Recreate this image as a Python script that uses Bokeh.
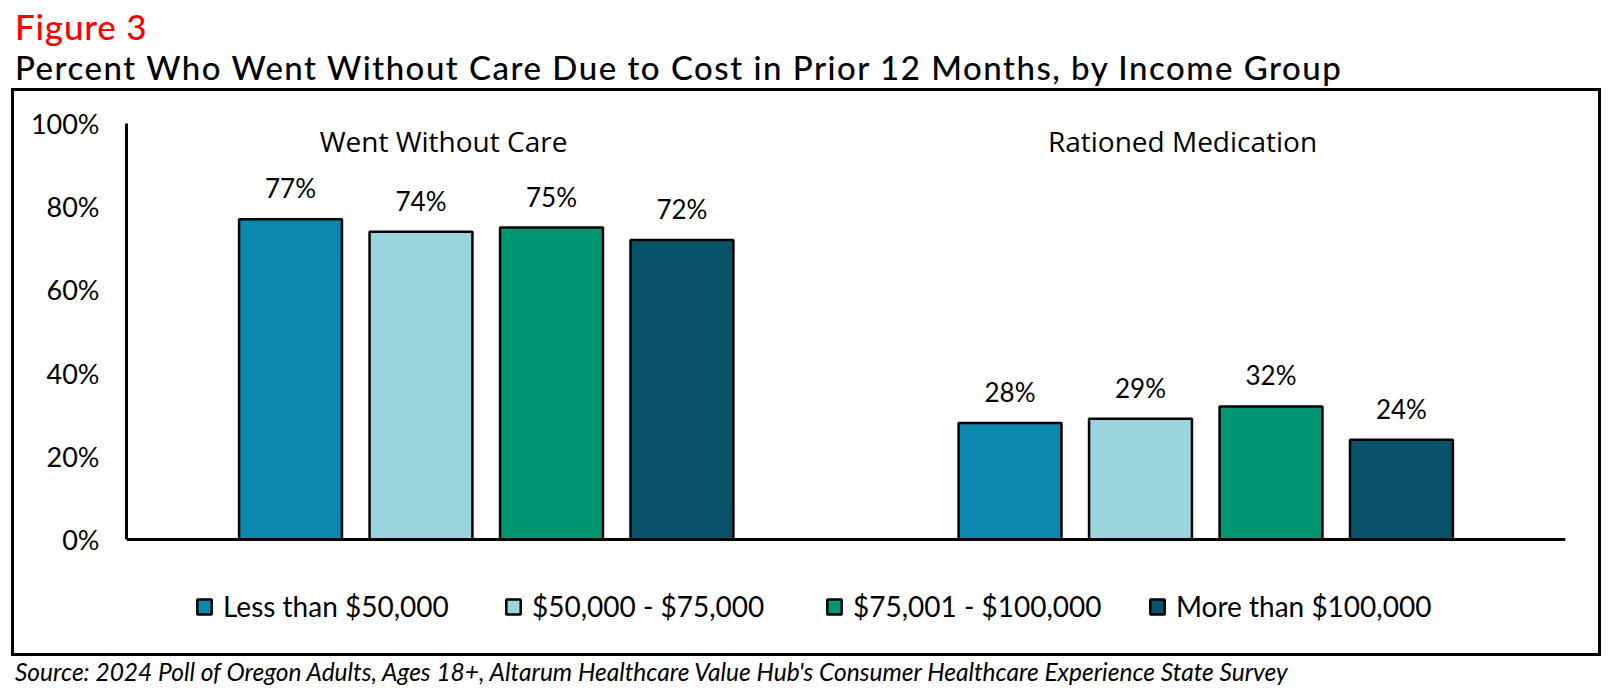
from bokeh.plotting import figure
from bokeh.layouts import column
from bokeh.models import (ColumnDataSource, FactorRange, Range1d, FixedTicker,
                          PrintfTickFormatter, LabelSet, Label, Legend, LegendItem,
                          Span, Div)
from bokeh.transform import dodge
from bokeh.core.properties import value
from bokeh.embed import file_html
from bokeh.resources import INLINE

# ---------------- data ----------------
groups = ["Went Without Care", "Rationed Medication"]
income_groups = ["Less than $50,000", "$50,000 - $75,000",
                 "$75,001 - $100,000", "More than $100,000"]
less_50k = [77, 28]
k50_75 = [74, 29]
k75_100 = [75, 32]
more_100k = [72, 24]
y_ticks = [0, 20, 40, 60, 80, 100]
colors = ["#0C88B0", "#9AD5DD", "#039675", "#08536A"]
fig_label = "Figure 3"
title_text = "Percent Who Went Without Care Due to Cost in Prior 12 Months, by Income Group"
source_note = ("Source: 2024 Poll of Oregon Adults, Ages 18+, Altarum Healthcare "
               "Value Hub's Consumer Healthcare Experience State Survey")

# ---------------- styles ----------------
FONT = "Lato"
HEAD_FONT = "Open Sans"
offsets = [-0.272, -0.0907, 0.0907, 0.272]
bar_width = 0.143
legend_x = [69, 378, 699, 1022]          # px from frame left
group_label_x = [317, 1056]              # px from frame left


def abs_text(txt, left, top, size, color="black", weight=400, style="normal",
             spacing=0):
    return (f'<div style="position:absolute;left:{left}px;top:{top}px;'
            f'font-family:Lato;font-size:{size}px;line-height:{size}px;'
            f'font-weight:{weight};font-style:{style};color:{color};'
            f'letter-spacing:{spacing}px;white-space:nowrap;">{txt}</div>')


# ---------------- header ----------------
header_html = ('<div style="position:relative;width:1621px;height:88px;">'
               + abs_text(fig_label, 15, 9, 35, color="#FF0000", weight=500,
                          spacing=0.8)
               + abs_text(title_text, 15, 51, 33, weight=500, spacing=1.5)
               + '</div>')
header = Div(text=header_html, width=1621, height=88, margin=0)

# ---------------- main chart ----------------
series = [less_50k, k50_75, k75_100, more_100k]
data = {"group": groups}
for i, s in enumerate(series):
    data[f"s{i}"] = s
    data[f"t{i}"] = [f"{v}%" for v in s]
src = ColumnDataSource(data)

p = figure(x_range=FactorRange(factors=groups, range_padding=0),
           y_range=Range1d(-25, 100),
           width=1590, height=568,
           output_backend="svg", toolbar_location=None,
           min_border_left=115, min_border_right=36,
           min_border_top=35, min_border_bottom=13)
p.margin = (0, 0, 0, 11)
p.outline_line_color = None
p.xgrid.visible = False
p.ygrid.visible = False
p.xaxis.visible = False

p.yaxis.bounds = (0, 100)
p.yaxis.ticker = FixedTicker(ticks=y_ticks)
p.yaxis.formatter = PrintfTickFormatter(format="%d%%")
p.yaxis.axis_line_width = 3
p.yaxis.axis_line_color = "black"
p.yaxis.major_tick_in = 0
p.yaxis.major_tick_out = 0
p.yaxis.minor_tick_in = 0
p.yaxis.minor_tick_out = 0
p.yaxis.major_label_standoff = 27
p.yaxis.major_label_text_font = FONT
p.yaxis.major_label_text_font_size = "27px"
p.yaxis.major_label_text_color = "black"

for i in range(4):
    r = p.vbar(x=dodge("group", offsets[i], range=p.x_range), top=f"s{i}",
               width=bar_width, source=src,
               fill_color=colors[i], line_color="black", line_width=2.5)
    p.add_layout(LabelSet(x=dodge("group", offsets[i], range=p.x_range),
                          y=f"s{i}", text=f"t{i}", source=src,
                          y_offset=31, text_align="center", text_baseline="middle",
                          text_font=value(FONT), text_font_size="26px",
                          text_color="black"))
    p.add_layout(Legend(items=[LegendItem(label=income_groups[i], renderers=[r])],
                        orientation="horizontal", location=(legend_x[i], 20),
                        glyph_width=18, glyph_height=19, label_standoff=10,
                        padding=0, margin=0, border_line_color=None,
                        background_fill_alpha=0,
                        label_text_font=FONT, label_text_font_size="28px",
                        label_text_color="black"))

# baseline (x axis line at 0)
p.add_layout(Span(location=0, dimension="width", line_color="black", line_width=3))

# group headings (screen y measured from the canvas bottom)
for txt, sx in zip(groups, group_label_x):
    p.add_layout(Label(x=sx, y=503, x_units="screen", y_units="screen", text=txt,
                       text_font=HEAD_FONT, text_font_size="28px",
                       text_color="black", text_align="center",
                       text_baseline="alphabetic"))

# ---------------- footer (with the chart frame box) ----------------
box_html = ('<div style="position:absolute;left:11px;top:-568px;width:1590px;'
            'height:568px;box-sizing:border-box;border:3px solid black;'
            'pointer-events:none;z-index:10;"></div>')
footer_html = ('<div style="position:relative;width:1621px;height:38px;">'
               + box_html
               + abs_text(source_note, 15, 4, 24.5, style="italic")
               + '</div>')
footer = Div(text=footer_html, width=1621, height=38, margin=0)

layout = column(header, p, footer, spacing=0)
open("out.html", "w").write(file_html(layout, INLINE))
